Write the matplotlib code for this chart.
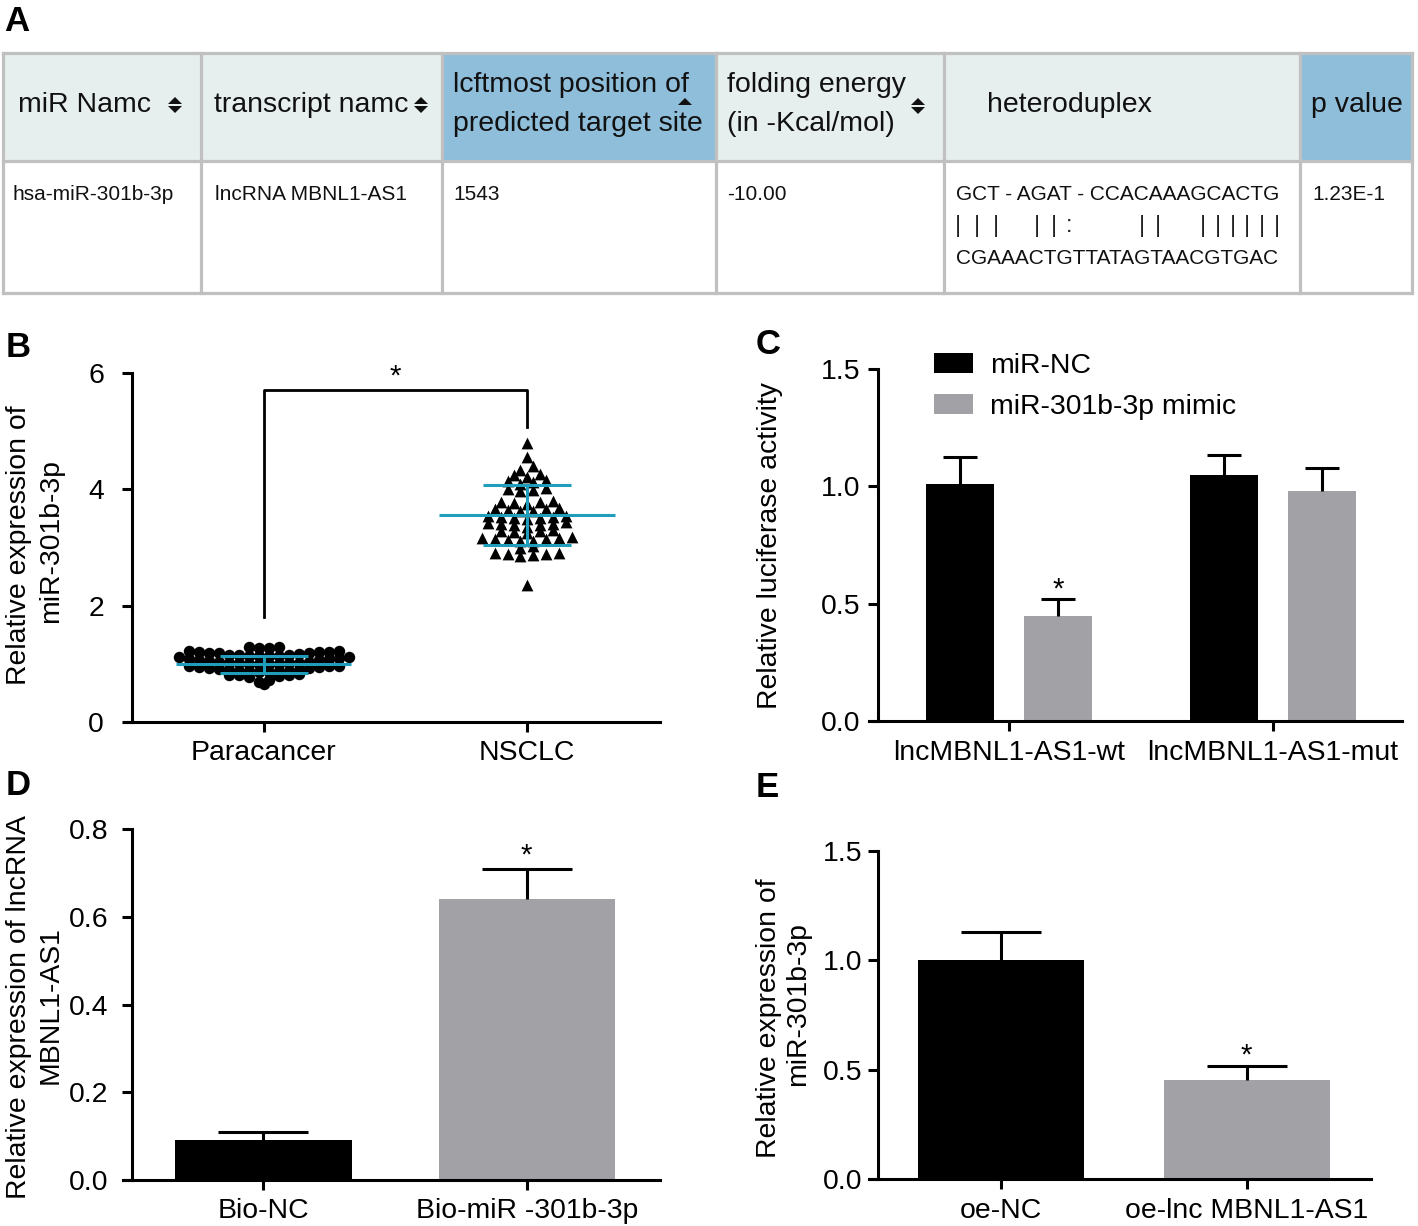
import numpy as np
import matplotlib
matplotlib.use("Agg")
import matplotlib.pyplot as plt
from matplotlib.patches import Rectangle, Polygon, Patch

W, H = 1418, 1226
plt.rcParams['font.family'] = ['Liberation Sans', 'DejaVu Sans']
FS = 20.4

# ---------------- data ----------------
# Panel A (table)
table_headers = [["miR Namc"], ["transcript namc"],
                 ["lcftmost position of", "predicted target site"],
                 ["folding energy", "(in -Kcal/mol)"], ["heteroduplex"], ["p value"]]
table_values = ["hsa-miR-301b-3p", "lncRNA MBNL1-AS1", "1543", "-10.00", "", "1.23E-1"]
duplex_top = "GCT - AGAT - CCACAAAGCACTG"
duplex_pairs = "|||||:||||||||"
duplex_bottom = "CGAAACTGTTATAGTAACGTGAC"
header_blue = [False, False, True, False, False, True]
sort_icon = ["both", "both", "up", "both", None, None]

# Panel B (scatter)
b_groups = ["Paracancer", "NSCLC"]
paracancer = [1.28, 1.29, 1.29, 1.28,
              1.13, 1.13, 1.14, 1.14, 1.15, 1.15, 1.16, 1.17, 1.18, 1.19, 1.19, 1.20, 1.21, 1.21, 1.22, 1.22,
              0.99, 0.99, 1.00, 1.00, 1.01, 1.01, 1.02, 1.02, 1.03, 1.04, 1.05, 1.06, 1.07, 1.08, 1.09, 1.10, 1.11, 1.12,
              0.86, 0.86, 0.87, 0.87, 0.88, 0.88, 0.89, 0.90, 0.91, 0.92, 0.93, 0.94, 0.95, 0.96, 0.97, 0.97,
              0.69, 0.72, 0.78, 0.79, 0.80, 0.80, 0.81, 0.82,
              0.65]
nsclc = [4.80, 4.56, 4.40, 4.34, 4.27, 4.24, 4.22, 4.16, 4.14, 4.12, 4.10,
         4.03, 4.01, 3.99, 3.97, 3.80, 3.79, 3.78, 3.76, 3.74,
         3.68, 3.67, 3.66, 3.64, 3.63, 3.62,
         3.55, 3.54, 3.53, 3.52, 3.51, 3.50, 3.49,
         3.43, 3.42, 3.41, 3.40, 3.39, 3.38, 3.36,
         3.30, 3.29, 3.28, 3.26, 3.25,
         3.18, 3.17, 3.16, 3.15, 3.14, 3.13, 3.12, 3.11,
         3.02, 3.00, 2.91, 2.90, 2.89, 2.88, 2.87, 2.86, 2.35]
b_means = [0.99, 3.56]
b_sds = [0.145, 0.51]
b_bracket = [1.8, 5.7, 5.07]

# Panel C (grouped bars)
c_groups = ["lncMBNL1-AS1-wt", "lncMBNL1-AS1-mut"]
c_series = ["miR-NC", "miR-301b-3p mimic"]
c_nc = [1.01, 1.05]
c_nc_err = [0.115, 0.085]
c_mimic = [0.448, 0.98]
c_mimic_err = [0.07, 0.10]

# Panel D
d_groups = ["Bio-NC", "Bio-miR -301b-3p"]
d_vals = [0.091, 0.641]
d_err = [0.018, 0.068]

# Panel E
e_groups = ["oe-NC", "oe-lnc MBNL1-AS1"]
e_vals = [1.002, 0.454]
e_err = [0.126, 0.064]

BLACK = "#000000"
GREY = "#a2a2a6"
TEAL = "#1f9dba"

fig = plt.figure(figsize=(W / 100, H / 100), dpi=100)


def add_axes_px(left, right, top, bottom):
    return fig.add_axes([left / W, 1 - bottom / H, (right - left) / W, (bottom - top) / H])


# ---------------- Panel A: table ----------------
tax = fig.add_axes([0, 0, 1, 1])
tax.set_xlim(0, W)
tax.set_ylim(H, 0)
tax.axis('off')
col_edges = [3, 201, 442, 716, 944, 1300, 1412]
row_edges = [53, 161, 293]
for i in range(6):
    fc = "#8fbedb" if header_blue[i] else "#e6eeee"
    tax.add_patch(Rectangle((col_edges[i], row_edges[0]), col_edges[i + 1] - col_edges[i],
                            row_edges[1] - row_edges[0], facecolor=fc, edgecolor='none', zorder=1))
BORDER = "#c0c0c0"
for x in col_edges:
    tax.plot([x, x], [row_edges[0], row_edges[2]], color=BORDER, lw=2.3, zorder=2, solid_capstyle='projecting')
for y in row_edges:
    tax.plot([col_edges[0], col_edges[-1]], [y, y], color=BORDER, lw=2.3, zorder=2, solid_capstyle='projecting')

head_x = [18, 214, 453, 727, 987, 1311]
for i, lines in enumerate(table_headers):
    ys = [105] if len(lines) == 1 else [85, 124]
    for ln, yy in zip(lines, ys):
        tax.text(head_x[i], yy, ln, fontsize=20.5, ha='left', va='center', color='#111111', zorder=3)

icon_pos = {0: (175, 105), 1: (421, 105), 2: (685, 102), 3: (918, 106)}


def tri(cx, cy, up, w=14, h=7):
    if up:
        pts = [(cx - w / 2, cy), (cx + w / 2, cy), (cx, cy - h)]
    else:
        pts = [(cx - w / 2, cy), (cx + w / 2, cy), (cx, cy + h)]
    tax.add_patch(Polygon(pts, closed=True, facecolor='#111111', edgecolor='none', zorder=3))


for i, kind in enumerate(sort_icon):
    if kind is None:
        continue
    cx, cy = icon_pos[i]
    if kind == "both":
        tri(cx, cy - 1, True)
        tri(cx, cy + 1, False)
    else:
        tri(cx, cy + 3, True)

body_x = [13, 215, 453, 727, 956, 1312]
for i, v in enumerate(table_values):
    if v:
        tax.text(body_x[i], 194, v, fontsize=15, ha='left', va='center', color='#111111', zorder=3)
tax.text(body_x[4], 194, duplex_top, fontsize=15, ha='left', va='center', color='#111111', zorder=3)
tax.text(body_x[4], 259, duplex_bottom, fontsize=15, ha='left', va='center', color='#111111', zorder=3)
pair_x = [958, 977, 996, 1037, 1054, 1069, 1142, 1158, 1203, 1218, 1233, 1247, 1262, 1277]
for ch, px in zip(duplex_pairs, pair_x):
    tax.text(px, 226, ch, fontsize=17, ha='center', va='center', color='#222222', zorder=3,
             fontweight='light')

# ---------------- common styling ----------------


def style(ax, spine_x, xlim, ylim, yticks, ylabels, ypad, xpad, xticks, xlabels):
    ax.set_xlim(*xlim)
    ax.set_ylim(*ylim)
    ax.patch.set_alpha(0)
    for s in ['top', 'right']:
        ax.spines[s].set_visible(False)
    ax.spines['left'].set_position(('data', spine_x))
    for s in ['left', 'bottom']:
        ax.spines[s].set_linewidth(2.2)
    ax.set_yticks(yticks)
    ax.set_yticklabels(ylabels)
    ax.set_xticks(xticks)
    ax.set_xticklabels(xlabels)
    ax.tick_params(axis='both', direction='out', length=7, width=2.2, labelsize=FS)
    ax.tick_params(axis='y', pad=ypad)
    ax.tick_params(axis='x', pad=xpad)


def rot_label(x, y, s):
    fig.text(x / W, 1 - y / H, s, rotation=90, ha='center', va='center', fontsize=FS)


def star(ax, x, y, off):
    ax.annotate('*', xy=(x, y), xytext=(0, off), textcoords='offset points',
                ha='center', va='baseline', fontsize=FS + 1, annotation_clip=False)


def panel_letter(x, y, s):
    fig.text(x / W, 1 - y / H, s, fontsize=25, fontweight='bold', ha='left', va='baseline')


# ---------------- Panel B ----------------


def row_layout(values, binw, step):
    v = np.asarray(values, float)
    keys = np.round(v / binw).astype(int)
    offs = np.zeros_like(v)
    for k in np.unique(keys):
        idx = np.flatnonzero(keys == k)
        idx = idx[np.argsort(v[idx], kind='stable')]
        n = len(idx)
        slots = (np.arange(n) - (n - 1) / 2) * step
        order = np.argsort(np.abs(slots), kind='stable')
        offs[idx] = slots[order]
    return offs


axB = add_axes_px(124, 660, 373, 722)
style(axB, -0.5, (-0.532, 1.506), (0, 6), [0, 2, 4, 6], ["0", "2", "4", "6"], 13.5, 6,
      [0, 1], b_groups)
px_off = row_layout(paracancer, 0.15, 0.038)
axB.scatter(0 + px_off, paracancer, s=68, marker='o', color=BLACK, linewidths=0, zorder=3, clip_on=False)
ns_off = row_layout(nsclc, 0.125, 0.049)
axB.scatter(1 + ns_off, nsclc, s=72, marker='^', color=BLACK, linewidths=0, zorder=3, clip_on=False)
for i, (m, sd) in enumerate(zip(b_means, b_sds)):
    axB.plot([i - 0.333, i + 0.333], [m, m], color=TEAL, lw=2.2, zorder=4, solid_capstyle='butt')
    axB.plot([i - 0.167, i + 0.167], [m + sd, m + sd], color=TEAL, lw=2.2, zorder=4, solid_capstyle='butt')
    axB.plot([i - 0.167, i + 0.167], [m - sd, m - sd], color=TEAL, lw=2.2, zorder=4, solid_capstyle='butt')
    axB.plot([i, i], [m - sd, m + sd], color=TEAL, lw=2.2, zorder=4, solid_capstyle='butt')
axB.plot([0, 0, 1, 1], [b_bracket[0], b_bracket[1], b_bracket[1], b_bracket[2]], color=BLACK, lw=2.0,
         zorder=2)
star(axB, 0.5, b_bracket[1], 4.5)
rot_label(19, 545, "Relative expression of")
rot_label(51, 541, "miR-301b-3p")
panel_letter(6, 357, "B")

# ---------------- Panel C ----------------
axC = add_axes_px(869, 1401.5, 369.3, 720.7)
style(axC, -0.497, (-0.531, 1.489), (0, 1.5), [0, 0.5, 1.0, 1.5], ["0.0", "0.5", "1.0", "1.5"], 5.8, 7.0,
      [0, 1], c_groups)
xc = np.arange(len(c_groups))
bw, off = 0.258, 0.186
axC.bar(xc - off, c_nc, width=bw, color=BLACK, zorder=2, label=c_series[0])
axC.bar(xc + off, c_mimic, width=bw, color=GREY, zorder=2, label=c_series[1])
capw = 0.0645
for xs, vals, errs in [(xc - off, c_nc, c_nc_err), (xc + off, c_mimic, c_mimic_err)]:
    tops = np.asarray(vals) + np.asarray(errs)
    axC.vlines(xs, vals, tops, color=BLACK, lw=2.2, zorder=3)
    axC.hlines(tops, xs - capw, xs + capw, color=BLACK, lw=2.2, zorder=3)
star(axC, xc[0] + off, c_mimic[0] + c_mimic_err[0], 1.5)
handles = [Patch(facecolor=BLACK, edgecolor='none'), Patch(facecolor=GREY, edgecolor='none')]
axC.legend(handles, c_series, loc='upper left', bbox_to_anchor=(934 / W, 1 - 353 / H),
           bbox_transform=fig.transFigure, frameon=False, borderpad=0, borderaxespad=0,
           handlelength=1.37, handleheight=0.7, handletextpad=0.6, labelspacing=0.52, fontsize=FS)
rot_label(770, 546, "Relative luciferase activity")
panel_letter(756, 354, "C")

# ---------------- Panel D ----------------
axD = add_axes_px(122.8, 660, 829.3, 1180)
style(axD, -0.5, (-0.534, 1.506), (0, 0.8), [0, 0.2, 0.4, 0.6, 0.8],
      ["0.0", "0.2", "0.4", "0.6", "0.8"], 9.6, 6.0, [0, 1], d_groups)
xd = np.arange(len(d_groups))
axD.bar(xd, d_vals, width=0.67, color=[BLACK, GREY], zorder=2)
tops = np.asarray(d_vals) + np.asarray(d_err)
axD.vlines(xd, d_vals, tops, color=BLACK, lw=2.2, zorder=3)
axD.hlines(tops, xd - 0.171, xd + 0.171, color=BLACK, lw=2.2, zorder=3)
star(axD, xd[1], tops[1], 4.0)
rot_label(19, 1007, "Relative expression of lncRNA")
rot_label(51, 1005, "MBNL1-AS1")
panel_letter(6, 795, "D")

# ---------------- Panel E ----------------
axE = add_axes_px(868.8, 1371.2, 851, 1179.3)
style(axE, -0.4976, (-0.536, 1.506), (0, 1.5), [0, 0.5, 1.0, 1.5], ["0.0", "0.5", "1.0", "1.5"], 4.3, 6.8,
      [0, 1], e_groups)
xe = np.arange(len(e_groups))
axE.bar(xe, e_vals, width=0.675, color=[BLACK, GREY], zorder=2)
tops = np.asarray(e_vals) + np.asarray(e_err)
axE.vlines(xe, e_vals, tops, color=BLACK, lw=2.2, zorder=3)
axE.hlines(tops, xe - 0.163, xe + 0.163, color=BLACK, lw=2.2, zorder=3)
star(axE, xe[1], tops[1], 2.0)
rot_label(769, 1018, "Relative expression of")
rot_label(798, 1004, "miR-301b-3p")
panel_letter(756, 797, "E")

panel_letter(4, 31, "A")

fig.savefig("out.png", dpi=100)
